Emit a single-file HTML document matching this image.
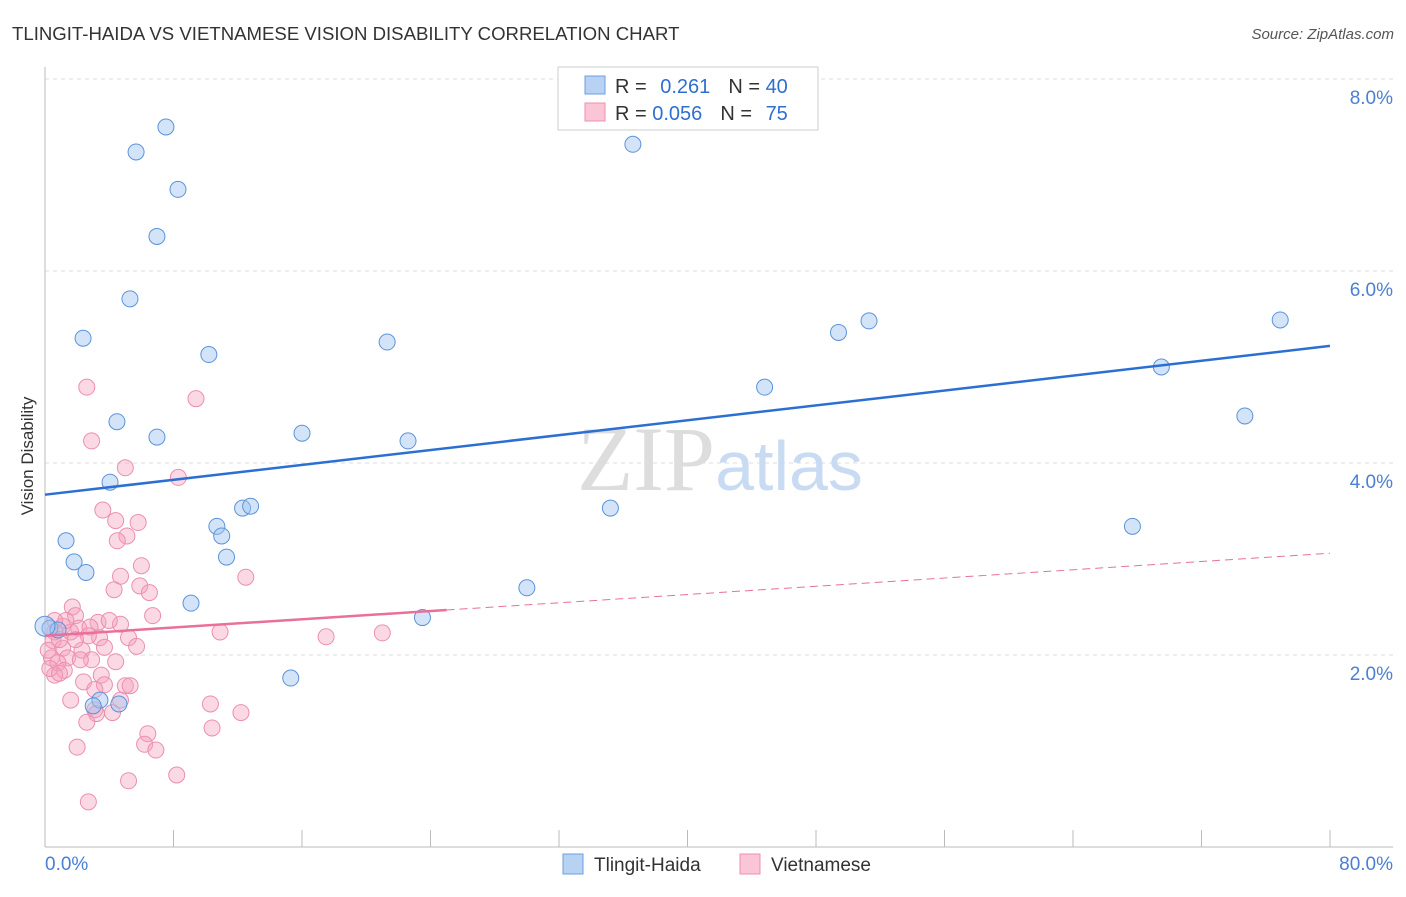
<!DOCTYPE html>
<html><head><meta charset="utf-8"><style>
body{margin:0;background:#fff;font-family:"Liberation Sans",sans-serif}
svg text{font-family:"Liberation Sans",sans-serif}
</style></head><body>
<svg id="chart" width="1406" height="892" xmlns="http://www.w3.org/2000/svg">
<text x="12" y="40" font-size="18.6" fill="#333">TLINGIT-HAIDA VS VIETNAMESE VISION DISABILITY CORRELATION CHART</text>
<text x="1394" y="39" font-size="15" fill="#555" text-anchor="end" font-style="italic">Source: ZipAtlas.com</text>
<text transform="translate(33,456) rotate(-90)" font-size="17" fill="#333" text-anchor="middle">Vision Disability</text>
<g id="grid"></g>
<text x="720" y="490" font-size="92" text-anchor="middle"><tspan fill="#ddd" font-family="Liberation Serif">ZIP</tspan><tspan fill="#c9dbf3" font-size="70">atlas</tspan></text>
<g id="pts"></g>
<g id="lines"></g>
<g>
<rect x="558" y="67" width="260" height="63" fill="#fff" stroke="#ccc"/>
<rect x="585" y="76" width="20" height="18" fill="#b8d2f4" stroke="#6b9fe0"/>
<text x="615" y="93" font-size="20" fill="#333">R = <tspan fill="#2f6fd0" dx="8">0.261</tspan><tspan dx="18" fill="#333">N = </tspan><tspan fill="#2f6fd0">40</tspan></text>
<rect x="585" y="103" width="20" height="18" fill="#fac6d6" stroke="#ee8fae"/>
<text x="615" y="120" font-size="20" fill="#333">R = <tspan fill="#2f6fd0">0.056</tspan><tspan dx="18" fill="#333">N = </tspan><tspan fill="#2f6fd0" dx="8">75</tspan></text>
</g>
<g>
<rect x="563" y="854" width="20" height="20" fill="#b8d2f4" stroke="#6b9fe0"/>
<text x="594" y="871" font-size="19" fill="#333">Tlingit-Haida</text>
<rect x="740" y="854" width="20" height="20" fill="#fac6d6" stroke="#ee8fae"/>
<text x="771" y="871" font-size="19" fill="#333">Vietnamese</text>
</g>
</svg>
<script>
const yTicks=[2,4,6,8];
const yTickLabels=["2.0%","4.0%","6.0%","8.0%"];
const xTickLabels=["0.0%","80.0%"];
const blueX=[7.53,5.67,8.28,6.97,36.6,5.29,2.37,10.2,21.3,49.4,51.3,76.9,69.5,44.8,74.7,4.48,6.97,16.0,22.6,4.05,12.3,12.8,10.7,11.0,35.2,67.7,1.31,1.81,2.55,11.3,30.0,9.09,23.5,0.31,0.81,15.3,3.42,3.0,4.6,0.0];
const blueY=[7.5,7.24,6.85,6.36,7.32,5.71,5.3,5.13,5.26,5.36,5.48,5.49,5.0,4.79,4.49,4.43,4.27,4.31,4.23,3.8,3.53,3.55,3.34,3.24,3.53,3.34,3.19,2.97,2.86,3.02,2.7,2.54,2.39,2.28,2.26,1.76,1.53,1.47,1.49,2.3];
const pinkX=[2.6,9.4,2.9,5.0,8.3,3.6,4.4,5.8,5.1,4.5,6.0,4.7,12.5,5.9,4.3,6.5,1.7,6.7,1.9,3.3,4.7,1.1,2.1,2.8,1.6,0.6,3.4,5.2,10.9,17.5,21.0,0.5,1.1,3.7,5.7,2.3,1.4,0.4,2.9,4.4,0.8,1.2,0.6,3.5,2.4,3.7,5.0,5.3,1.6,3.1,3.2,4.2,2.6,10.3,12.2,10.4,6.4,6.2,6.9,2.0,8.2,5.2,2.7,0.2,0.3,0.9,1.3,2.7,4.0,3.1,0.9,2.2,4.7,0.6,1.9];
const pinkY=[4.79,4.67,4.23,3.95,3.85,3.51,3.4,3.38,3.24,3.19,2.93,2.82,2.81,2.72,2.68,2.65,2.5,2.41,2.41,2.34,2.32,2.3,2.28,2.29,2.24,2.24,2.18,2.18,2.24,2.19,2.23,2.15,2.07,2.08,2.09,2.05,1.97,1.97,1.95,1.93,1.92,1.84,1.79,1.79,1.72,1.69,1.68,1.68,1.53,1.43,1.39,1.4,1.3,1.49,1.4,1.24,1.18,1.07,1.01,1.04,0.75,0.69,0.47,2.05,1.86,2.16,2.36,2.2,2.36,1.64,1.81,1.95,1.53,2.36,2.16];
const blueTrend=[3.67,5.22];
const pinkTrend=[2.20,3.06];
const X=v=>45+v*(1285/80), Y=v=>847-v*96;
const NS="http://www.w3.org/2000/svg";
function mk(t,a,p){const e=document.createElementNS(NS,t);for(const k in a)e.setAttribute(k,a[k]);p.appendChild(e);return e;}
const g=document.getElementById('grid');
yTicks.forEach((t,i)=>{
 const l=mk('line',{x1:45,x2:1393,y1:Y(t),y2:Y(t),stroke:'#ddd','stroke-dasharray':'4,4'},g);
 
 
 const tx=mk('text',{x:1393,y:Y(t)+25,'font-size':19,fill:'#4a7fd4','text-anchor':'end'},g);
 tx.textContent=yTickLabels[i];
 
 
});
mk('line',{x1:45,x2:45,y1:67,y2:847,stroke:'#bbb'},g);
mk('line',{x1:45,x2:1393,y1:847,y2:847,stroke:'#bbb'},g);
for(let i=0;i<=10;i++){const t=mk('line',{x1:X(i*8),x2:X(i*8),y1:830,y2:847,stroke:'#bbb'},g);
 
 }
[[0,'start',45],[80,'end',1393]].forEach((d,i)=>{const t=mk('text',{x:d[2],y:870,'font-size':19,fill:'#4a7fd4','text-anchor':d[1]},g);t.textContent=xTickLabels[i];
 
 });
const p=document.getElementById('pts');
pinkX.forEach((v,i)=>{const c=mk('circle',{cx:X(v),cy:Y(pinkY[i]),r:8,fill:'rgba(244,160,188,0.4)',stroke:'#ec8fae','stroke-width':1},p);
 
 });
blueX.forEach((v,i)=>{const c=mk('circle',{cx:X(v),cy:Y(blueY[i]),r:i==39?10:8,fill:'rgba(160,195,240,0.45)',stroke:'#5b93d9','stroke-width':1},p);
 
 });
const L=document.getElementById('lines');
const bl=mk('line',{x1:X(0),y1:Y(blueTrend[0]),x2:X(80),y2:Y(blueTrend[1]),stroke:'#2c6fd3','stroke-width':2.5},L);


const pm=pinkTrend[0]+(pinkTrend[1]-pinkTrend[0])*25/80;
const ps=mk('line',{x1:X(0),y1:Y(pinkTrend[0]),x2:X(25),y2:Y(pm),stroke:'#e8709a','stroke-width':2.5},L);


const pd=mk('line',{x1:X(25),y1:Y(pm),x2:X(80),y2:Y(pinkTrend[1]),stroke:'#e8709a','stroke-width':1,'stroke-dasharray':'8,5'},L);


</script>
</body></html>
